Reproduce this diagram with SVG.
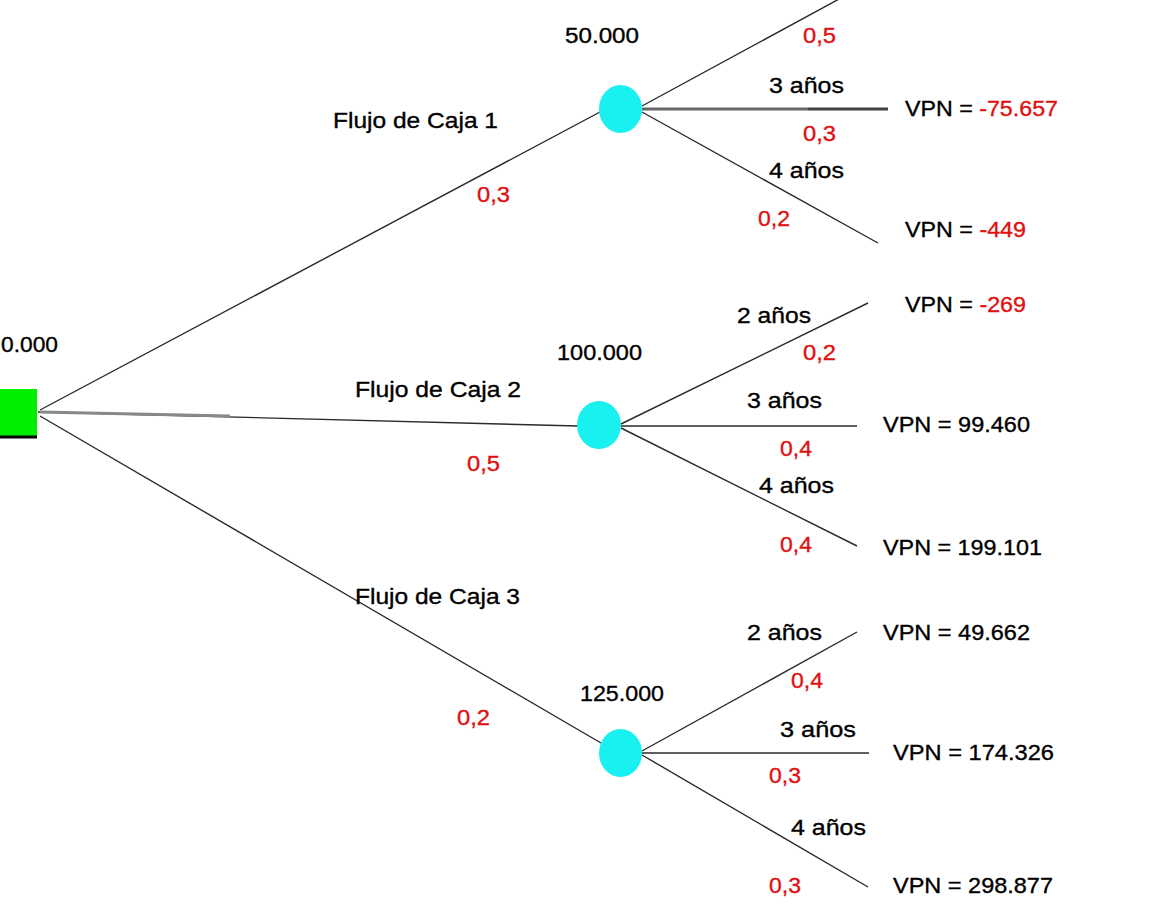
<svg xmlns="http://www.w3.org/2000/svg" width="1168" height="916" viewBox="0 0 1168 916">
<style>
text{font-family:"Liberation Sans",Arial,sans-serif;font-size:22px;fill:#000;stroke:#000;stroke-width:0.35}
.r{fill:#e01010;stroke:#e01010}
.ln{stroke:#2a2a2a;stroke-width:1.4;fill:none}
.thick{stroke:#666;stroke-width:3;fill:none}
.chance{fill:#19f0f0}
</style>
<rect width="1168" height="916" fill="#fff"/>
<g id="connectors">
<line class="ln" x1="40" y1="410" x2="600" y2="112"/>
<line class="ln" x1="38" y1="412" x2="578" y2="426"/>
<line x1="40" y1="412" x2="230" y2="416" stroke="#888" stroke-width="3"/>
<line class="ln" x1="40" y1="416" x2="601" y2="743"/>
<line class="ln" x1="642" y1="106" x2="852" y2="-8"/>
<line class="thick" x1="642" y1="109" x2="808" y2="109"/>
<line x1="808" y1="109" x2="888" y2="109" stroke="#444" stroke-width="3"/>
<line class="ln" x1="642" y1="112" x2="878" y2="243"/>
<line class="ln" x1="621" y1="424" x2="868" y2="303"/>
<line class="ln" x1="621" y1="426" x2="857" y2="426"/>
<line class="ln" x1="621" y1="428" x2="857" y2="546"/>
<line class="ln" x1="642" y1="751" x2="857" y2="632"/>
<line class="ln" x1="642" y1="753" x2="869" y2="753"/>
<line class="ln" x1="642" y1="755" x2="868" y2="887"/>
</g>
<g id="decision">
<rect x="0" y="389" width="37" height="49" fill="#00ee00"/>
<line x1="0" y1="437" x2="37" y2="437" stroke="#000" stroke-width="3"/>
<text x="1" y="352" textLength="57" lengthAdjust="spacingAndGlyphs">0.000</text>
</g>
<g id="flujo1">
<text x="333" y="128" textLength="165" lengthAdjust="spacingAndGlyphs">Flujo de Caja 1</text>
<text class="r" x="477" y="202" textLength="33" lengthAdjust="spacingAndGlyphs">0,3</text>
</g>
<g id="flujo2">
<text x="355" y="397" textLength="166" lengthAdjust="spacingAndGlyphs">Flujo de Caja 2</text>
<text class="r" x="467" y="471" textLength="33" lengthAdjust="spacingAndGlyphs">0,5</text>
</g>
<g id="flujo3">
<text x="355" y="604" textLength="165" lengthAdjust="spacingAndGlyphs">Flujo de Caja 3</text>
<text class="r" x="457" y="725" textLength="33" lengthAdjust="spacingAndGlyphs">0,2</text>
</g>
<g id="node1">
<ellipse class="chance" cx="620.5" cy="109" rx="21.5" ry="24"/>
<text x="565" y="43" textLength="74" lengthAdjust="spacingAndGlyphs">50.000</text>
<text class="r" x="803" y="43" textLength="33" lengthAdjust="spacingAndGlyphs">0,5</text>
<text x="769" y="93" textLength="75" lengthAdjust="spacingAndGlyphs">3 años</text>
<text class="r" x="803" y="141" textLength="33" lengthAdjust="spacingAndGlyphs">0,3</text>
<text x="769" y="178" textLength="75" lengthAdjust="spacingAndGlyphs">4 años</text>
<text class="r" x="758" y="226" textLength="32" lengthAdjust="spacingAndGlyphs">0,2</text>
<text x="905" y="116" textLength="153" lengthAdjust="spacingAndGlyphs">VPN = <tspan class="r">-75.657</tspan></text>
<text x="905" y="237" textLength="121" lengthAdjust="spacingAndGlyphs">VPN = <tspan class="r">-449</tspan></text>
</g>
<g id="node2">
<ellipse class="chance" cx="599" cy="425" rx="22" ry="24"/>
<text x="557" y="360" textLength="85" lengthAdjust="spacingAndGlyphs">100.000</text>
<text x="737" y="323" textLength="74" lengthAdjust="spacingAndGlyphs">2 años</text>
<text class="r" x="803" y="360" textLength="33" lengthAdjust="spacingAndGlyphs">0,2</text>
<text x="747" y="408" textLength="75" lengthAdjust="spacingAndGlyphs">3 años</text>
<text class="r" x="780" y="456" textLength="32" lengthAdjust="spacingAndGlyphs">0,4</text>
<text x="759" y="493" textLength="75" lengthAdjust="spacingAndGlyphs">4 años</text>
<text class="r" x="780" y="552" textLength="32" lengthAdjust="spacingAndGlyphs">0,4</text>
<text x="905" y="312" textLength="121" lengthAdjust="spacingAndGlyphs">VPN = <tspan class="r">-269</tspan></text>
<text x="883" y="432" textLength="147" lengthAdjust="spacingAndGlyphs">VPN = 99.460</text>
<text x="883" y="555" textLength="159" lengthAdjust="spacingAndGlyphs">VPN = 199.101</text>
</g>
<g id="node3">
<ellipse class="chance" cx="620.5" cy="753" rx="21.5" ry="24"/>
<text x="580" y="701" textLength="84" lengthAdjust="spacingAndGlyphs">125.000</text>
<text x="747" y="640" textLength="75" lengthAdjust="spacingAndGlyphs">2 años</text>
<text class="r" x="791" y="688" textLength="32" lengthAdjust="spacingAndGlyphs">0,4</text>
<text x="780" y="737" textLength="76" lengthAdjust="spacingAndGlyphs">3 años</text>
<text class="r" x="769" y="783" textLength="32" lengthAdjust="spacingAndGlyphs">0,3</text>
<text x="791" y="835" textLength="75" lengthAdjust="spacingAndGlyphs">4 años</text>
<text class="r" x="769" y="893" textLength="32" lengthAdjust="spacingAndGlyphs">0,3</text>
<text x="883" y="640" textLength="147" lengthAdjust="spacingAndGlyphs">VPN = 49.662</text>
<text x="893" y="760" textLength="161" lengthAdjust="spacingAndGlyphs">VPN = 174.326</text>
<text x="893" y="893" textLength="160" lengthAdjust="spacingAndGlyphs">VPN = 298.877</text>
</g>
</svg>
